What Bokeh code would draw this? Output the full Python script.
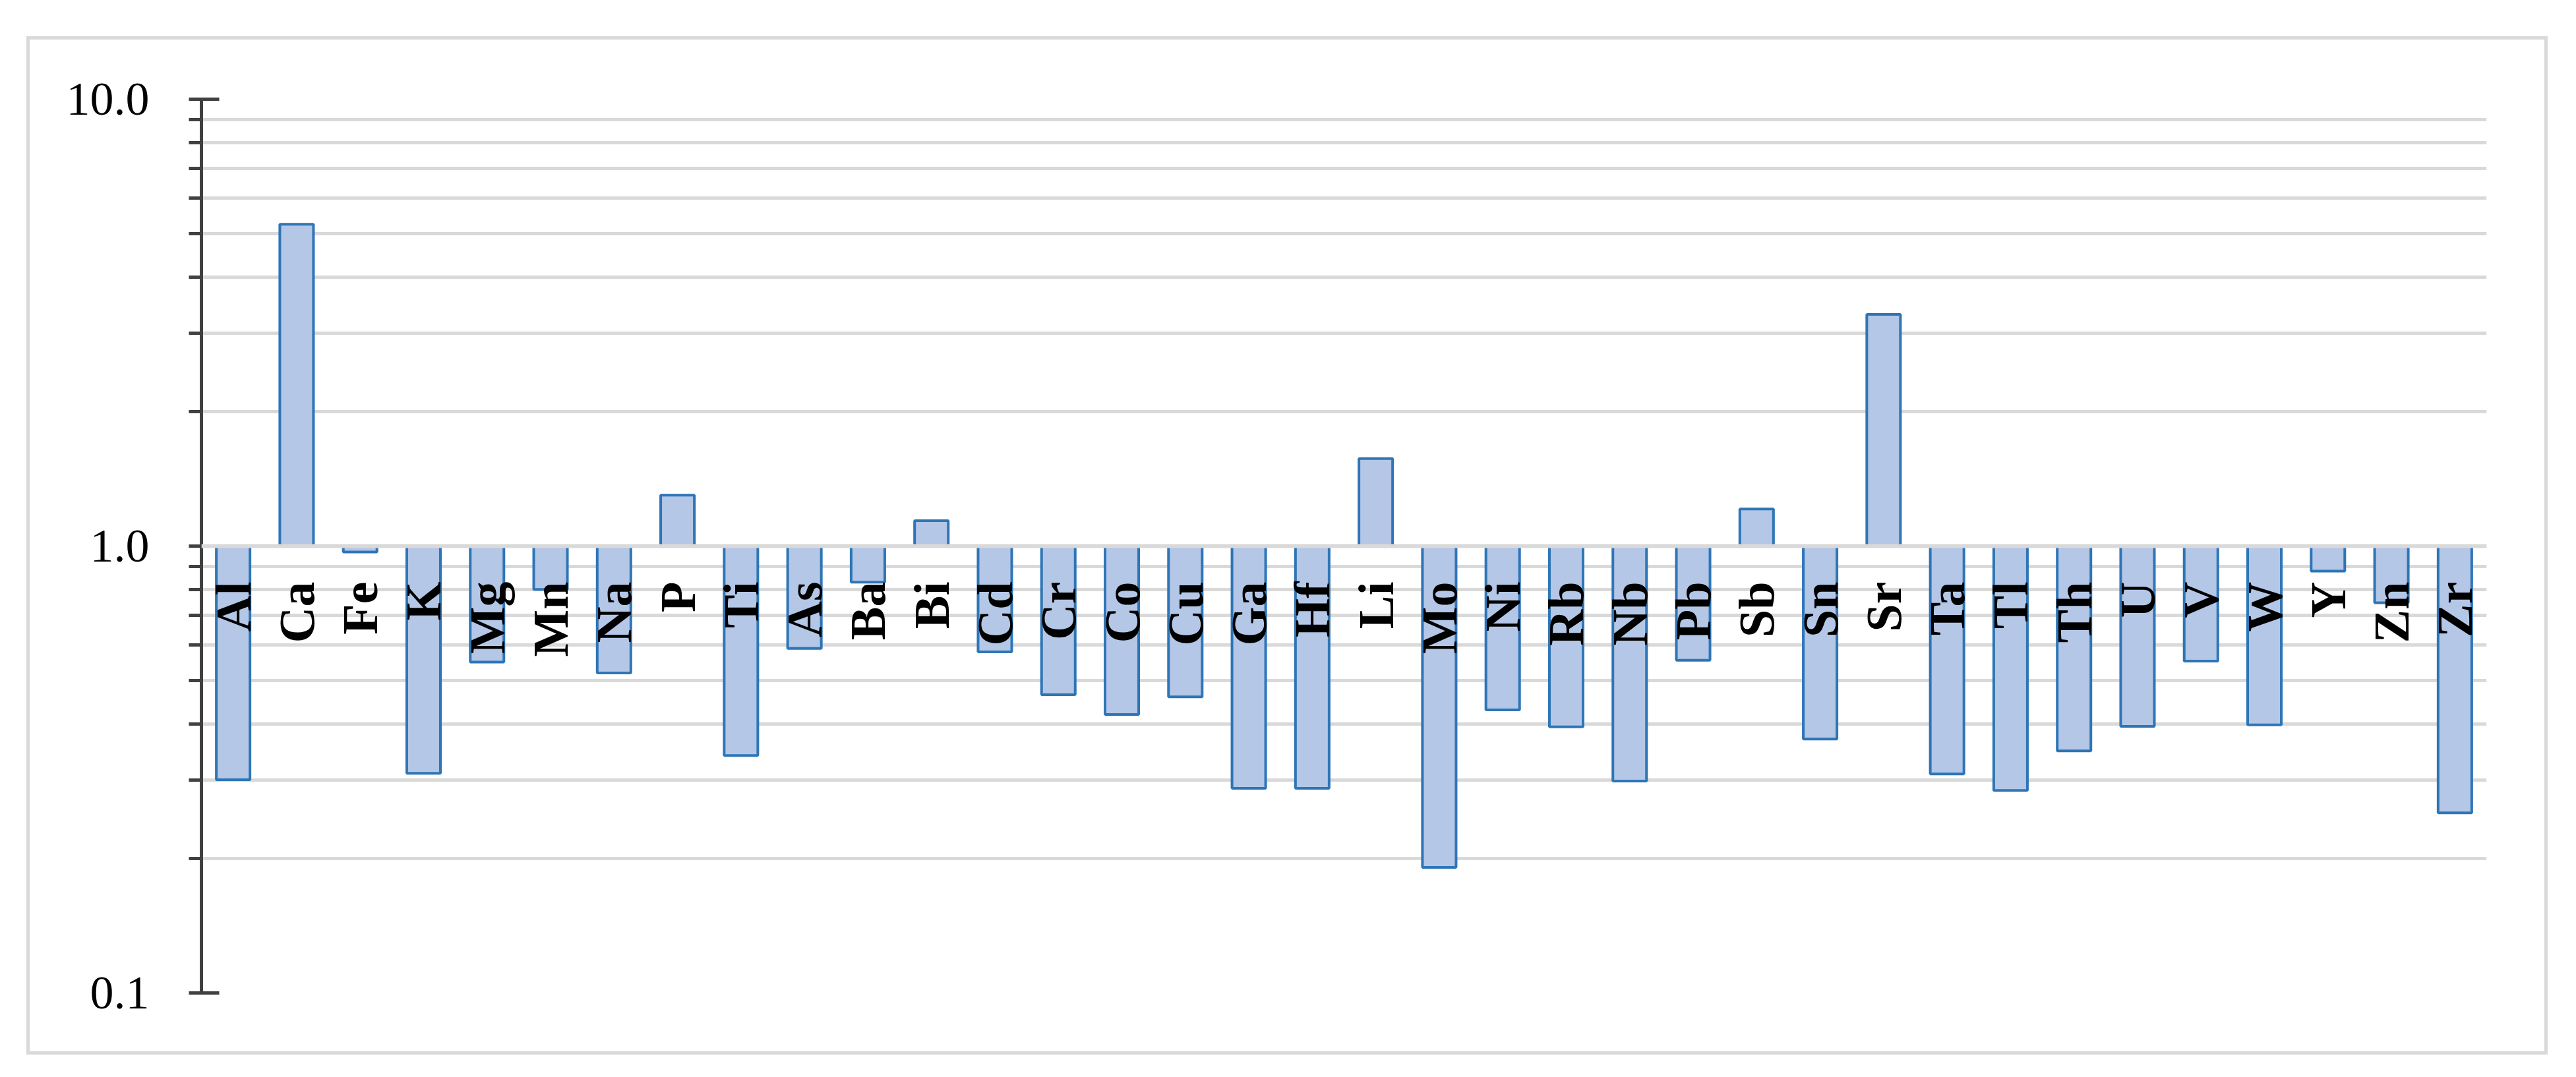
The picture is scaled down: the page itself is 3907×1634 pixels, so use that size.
import math
from bokeh.plotting import figure
from bokeh.models import FixedTicker, Range1d, FactorRange, Span, ColumnDataSource
from bokeh.core.properties import value
from bokeh.embed import file_html
from bokeh.resources import INLINE

elements = ["Al", "Ca", "Fe", "K", "Mg", "Mn", "Na", "P", "Ti", "As", "Ba", "Bi",
            "Cd", "Cr", "Co", "Cu", "Ga", "Hf", "Li", "Mo", "Ni", "Rb", "Nb", "Pb",
            "Sb", "Sn", "Sr", "Ta", "Tl", "Th", "U", "V", "W", "Y", "Zn", "Zr"]
ratios = [0.30, 5.25, 0.97, 0.31, 0.55, 0.80, 0.52, 1.30, 0.34, 0.59, 0.83, 1.14,
          0.58, 0.465, 0.42, 0.46, 0.287, 0.287, 1.57, 0.191, 0.43, 0.394, 0.298, 0.555,
          1.21, 0.37, 3.30, 0.309, 0.284, 0.348, 0.395, 0.553, 0.398, 0.879, 0.747, 0.253]
baseline = 1.0
y_major = [0.1, 1.0, 10.0]
y_major_labels = ["0.1", "1.0", "10.0"]
y_minor = [0.2, 0.3, 0.4, 0.5, 0.6, 0.7, 0.8, 0.9, 2, 3, 4, 5, 6, 7, 8, 9]

src = ColumnDataSource(dict(x=elements, top=ratios, bottom=[baseline] * len(elements),
                            ly=[baseline] * len(elements)))

p = figure(width=3814, height=1535, x_range=FactorRange(*elements, range_padding=0),
           y_range=Range1d(0.1, 10), y_axis_type="log",
           output_backend="svg", toolbar_location=None,
           min_border_left=260, min_border_right=88, min_border_top=90, min_border_bottom=89)
p.margin = (60, 0, 0, 45)
p.styles = {"outline": "5px solid #D9D9D9", "outline-offset": "0px"}
p.outline_line_color = None
p.background_fill_color = "white"
p.border_fill_color = "white"

ticker = FixedTicker(ticks=y_major, minor_ticks=y_minor)
p.yaxis.ticker = ticker
p.yaxis.major_label_overrides = {t: l for t, l in zip(y_major, y_major_labels)}
p.yaxis.axis_line_color = "#404040"
p.yaxis.axis_line_width = 5
p.yaxis.major_tick_line_color = "#404040"
p.yaxis.major_tick_line_width = 5
p.yaxis.major_tick_out = 19
p.yaxis.major_tick_in = 27
p.yaxis.minor_tick_line_color = "#404040"
p.yaxis.minor_tick_line_width = 5
p.yaxis.minor_tick_out = 19
p.yaxis.minor_tick_in = 0
p.yaxis.major_label_text_font = "Liberation Serif"
p.yaxis.major_label_text_font_size = "72px"
p.yaxis.major_label_text_color = "black"
p.yaxis.major_label_standoff = 60

p.xaxis.visible = False
p.xgrid.grid_line_color = None
p.ygrid.ticker = ticker
p.ygrid.grid_line_color = "#D9D9D9"
p.ygrid.grid_line_width = 5
p.ygrid.minor_grid_line_color = "#D9D9D9"
p.ygrid.minor_grid_line_width = 5

p.vbar(x="x", top="top", bottom="bottom", width=0.53, source=src,
       fill_color="#B4C7E7", line_color="#2E75B6", line_width=4)

p.add_layout(Span(location=baseline, dimension="width", line_color="#D9D9D9",
                  line_width=6, level="overlay"))

p.text(x="x", y="ly", text="x", source=src, angle=math.pi / 2,
       text_align="right", text_baseline="middle", y_offset=54,
       text_font=value("Liberation Serif"), text_font_style="bold",
       text_font_size="76px", text_color="black", level="overlay")

open("out.html", "w").write(file_html(p, INLINE))
